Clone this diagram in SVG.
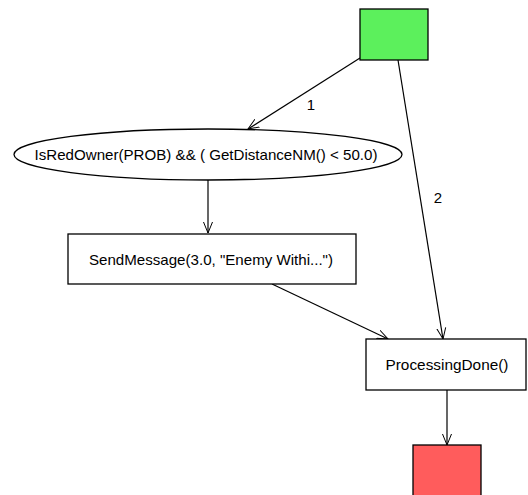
<svg xmlns="http://www.w3.org/2000/svg" width="528" height="495" viewBox="0 0 528 495">
<defs>
<marker id="arr" viewBox="0 0 12 12" refX="11" refY="6" markerWidth="12" markerHeight="12" markerUnits="userSpaceOnUse" orient="auto">
<path d="M0,1.5 L11,6 L0,10.5" fill="none" stroke="#000" stroke-width="1"/>
</marker>
</defs>
<style>
text{font-family:"Liberation Sans",Arial,sans-serif;font-size:15px;fill:#000}
.n{stroke:#000;stroke-width:1.3}
.e{stroke:#000;stroke-width:1.2;fill:none;marker-end:url(#arr)}
</style>
<rect width="528" height="495" fill="#fff"/>
<g id="connectors">
<line class="e" x1="360" y1="58" x2="248" y2="129"/>
<line class="e" x1="398" y1="60" x2="443" y2="339"/>
<line class="e" x1="208" y1="180" x2="208" y2="233"/>
<line class="e" x1="272" y1="284" x2="388" y2="339"/>
<line class="e" x1="447" y1="390" x2="447" y2="445"/>
<text x="311" y="110" text-anchor="middle">1</text>
<text x="438" y="203" text-anchor="middle">2</text>
</g>
<g id="start">
<rect class="n" x="360" y="9" width="68" height="51" fill="#5cf05c"/>
</g>
<g id="condition">
<ellipse class="n" cx="208" cy="154.5" rx="194" ry="25.5" fill="#fff"/>
<text x="206" y="160" text-anchor="middle" textLength="343" lengthAdjust="spacingAndGlyphs">IsRedOwner(PROB) &amp;&amp; ( GetDistanceNM() &lt; 50.0)</text>
</g>
<g id="sendmessage">
<rect class="n" x="68" y="234" width="288" height="50" fill="#fff"/>
<text x="211" y="265" text-anchor="middle" textLength="244" lengthAdjust="spacingAndGlyphs">SendMessage(3.0, "Enemy Withi...")</text>
</g>
<g id="processingdone">
<rect class="n" x="366" y="339" width="160" height="51" fill="#fff"/>
<text x="447" y="370" text-anchor="middle" textLength="123" lengthAdjust="spacingAndGlyphs">ProcessingDone()</text>
</g>
<g id="end">
<rect class="n" x="413" y="445" width="68" height="55" fill="#ff5c5c"/>
</g>
</svg>
